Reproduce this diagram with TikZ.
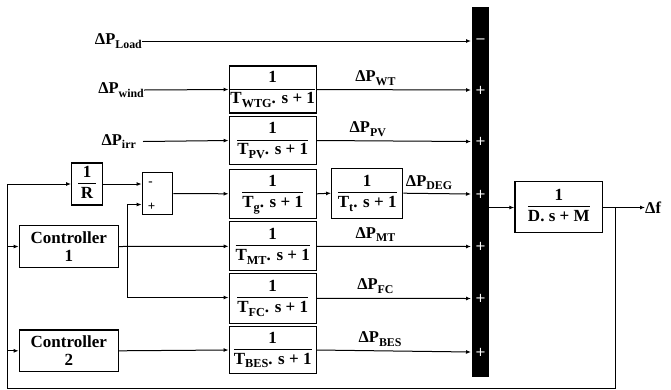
\documentclass[tikz,border=0pt]{standalone}
\usepackage{fontspec}
\setmainfont{Liberation Serif}
\newfontfamily\signfont{DejaVu Sans}
\usetikzlibrary{arrows.meta}
% larger, lowered subscript
\newcommand\sub[1]{\raisebox{-0.5ex}{\scalebox{0.72}{#1}}}
% transfer-function fraction set from bold text, bar as wide as the widest part
\newcommand\frc[2]{\vbox{\offinterlineskip\halign{\hfil##\hfil\cr
  \strut #1\cr\noalign{\kern0.5pt\hrule height 0.9pt\kern1.5pt}\strut #2\cr}}}
\tikzset{
  blk/.style={draw, line width=1.3pt, inner sep=0pt, align=center,
    font=\fontsize{17}{18}\selectfont\bfseries},
  sig/.style={line width=1pt, -{Latex[length=5pt,width=4pt]}},
  wire/.style={line width=1pt},
  lbl/.style={font=\fontsize{16.5}{17}\selectfont\bfseries, inner sep=0pt},
  sgn/.style={text=white, font=\signfont\fontsize{13}{13}\selectfont, inner sep=0pt},
}
\begin{document}
\begin{tikzpicture}[x=1pt, y=-1pt]
\useasboundingbox (0,0) rectangle (671,389);

% summing bar
\fill (472,7) rectangle (489,377);
\coordinate (barL1) at (471,41);
\coordinate (barL2) at (471,90);
\coordinate (barL3) at (471,141.5);
\coordinate (barL4) at (471,194);
\coordinate (barL5) at (471,246.5);
\coordinate (barL6) at (471,298.5);
\coordinate (barL7) at (471,352);
\coordinate (barR) at (489,207.5);
\node[sgn] at (480.5,41) {−};
\foreach \yy in {90,141.5,194,246.5,298.5,352} \node[sgn] at (480.5,\yy) {+};

% transfer-function blocks
\node[blk, minimum width=87pt, minimum height=47pt] (wtg) at (272.7,89.5) {\frc{1}{T\sub{WTG}. s + 1}};
\node[blk, minimum width=87pt, minimum height=47.5pt] (pv) at (272.7,140.5) {\frc{1}{T\sub{PV}. s + 1}};
\node[blk, minimum width=87pt, minimum height=49pt] (tg) at (272.7,193.8) {\frc{1}{T\sub{g}. s + 1}};
\node[blk, minimum width=87pt, minimum height=49pt] (mt) at (272.7,246.3) {\frc{1}{T\sub{MT}. s + 1}};
\node[blk, minimum width=87pt, minimum height=50pt] (fc) at (272.7,298.3) {\frc{1}{T\sub{FC}. s + 1}};
\node[blk, minimum width=87pt, minimum height=46.5pt] (bes) at (272.7,350) {\frc{1}{T\sub{BES}. s + 1}};
\node[blk, minimum width=71pt, minimum height=50pt] (tt) at (367.2,193.2) {\frc{1}{T\sub{t}. s + 1}};
\node[blk, minimum width=30.6pt, minimum height=42pt] (rr) at (87,184) {\frc{1}{\,R\,}};
\node[blk, minimum width=30.4pt, minimum height=41.6pt] (sum) at (157.5,193.5) {};
\node[lbl, font=\fontsize{13}{13}\selectfont\bfseries] at (150.5,184) {-};
\node[lbl, font=\fontsize{13}{13}\selectfont\bfseries] at (151.5,206.5) {+};
\node[blk, minimum width=99pt, minimum height=41.6pt] (c1) at (68.8,246.5) {Controller\\1};
\node[blk, minimum width=99pt, minimum height=41.7pt] (c2) at (68.8,350.8) {Controller\\2};
\node[blk, minimum width=87.7pt, minimum height=50.6pt] (dm) at (558.8,207) {\frc{1}{D. s + M}};

% external inputs
\node[lbl, anchor=east] (pload) at (142,41) {ΔP\sub{Load}};
\node[lbl, anchor=east] (pwind) at (144,90) {ΔP\sub{wind}};
\node[lbl, anchor=east] (pirr) at (136,141.5) {ΔP\sub{irr}};
\draw[sig] (pload.east) -- (barL1);
\draw[sig] (pwind.east) -- (wtg.west);
\draw[sig] (pirr.east) ++(7,0) -- (pv.west);

% block outputs into the bar
\draw[sig] (wtg.east) -- (barL2) node[lbl, pos=0.38, above=4pt] {ΔP\sub{WT}};
\draw[sig] (pv.east) -- (barL3) node[lbl, pos=0.33, above=4pt] {ΔP\sub{PV}};
\draw[sig] (tg.east) -- (tt.west);
\draw[sig] (tt.east) -- (barL4) node[lbl, pos=0.38, above=3pt] {ΔP\sub{DEG}};
\draw[sig] (mt.east) -- (barL5) node[lbl, pos=0.38, above=4pt] {ΔP\sub{MT}};
\draw[sig] (fc.east) -- (barL6) node[lbl, pos=0.38, above=4pt] {ΔP\sub{FC}};
\draw[sig] (bes.east) -- (barL7) node[lbl, pos=0.41, above=4pt] {ΔP\sub{BES}};

% governor path
\draw[sig] (rr.east) -- (sum.west |- rr.east);
\draw[sig] (sum.east) -- (tg.west);

% controller outputs
\coordinate (br) at (127,246.5);
\draw[sig] (c1.east) -- (mt.west);
\draw[sig] (br) |- (sum.west |- 0,204.5);
\draw[sig] (br) |- (fc.west |- 0,297.5);
\draw[sig] (c2.east) -- (bes.west);

% system block and frequency output
\coordinate (fb) at (615,207.5);
\node[lbl, anchor=west] (df) at (645,207.5) {Δf};
\draw[sig] (barR) -- (dm.west |- barR);
\draw[sig] (dm.east |- barR) -- (df.west);

% frequency feedback
\coordinate (fbL) at (7,388);
\draw[wire] (fb) -- (615,388) -- (fbL) -- (7,184);
\draw[sig] (7,184) -- (rr.west);
\draw[sig] (7,246.5) -- (c1.west);
\draw[sig] (7,350.8) -- (c2.west);
\end{tikzpicture}
\end{document}
